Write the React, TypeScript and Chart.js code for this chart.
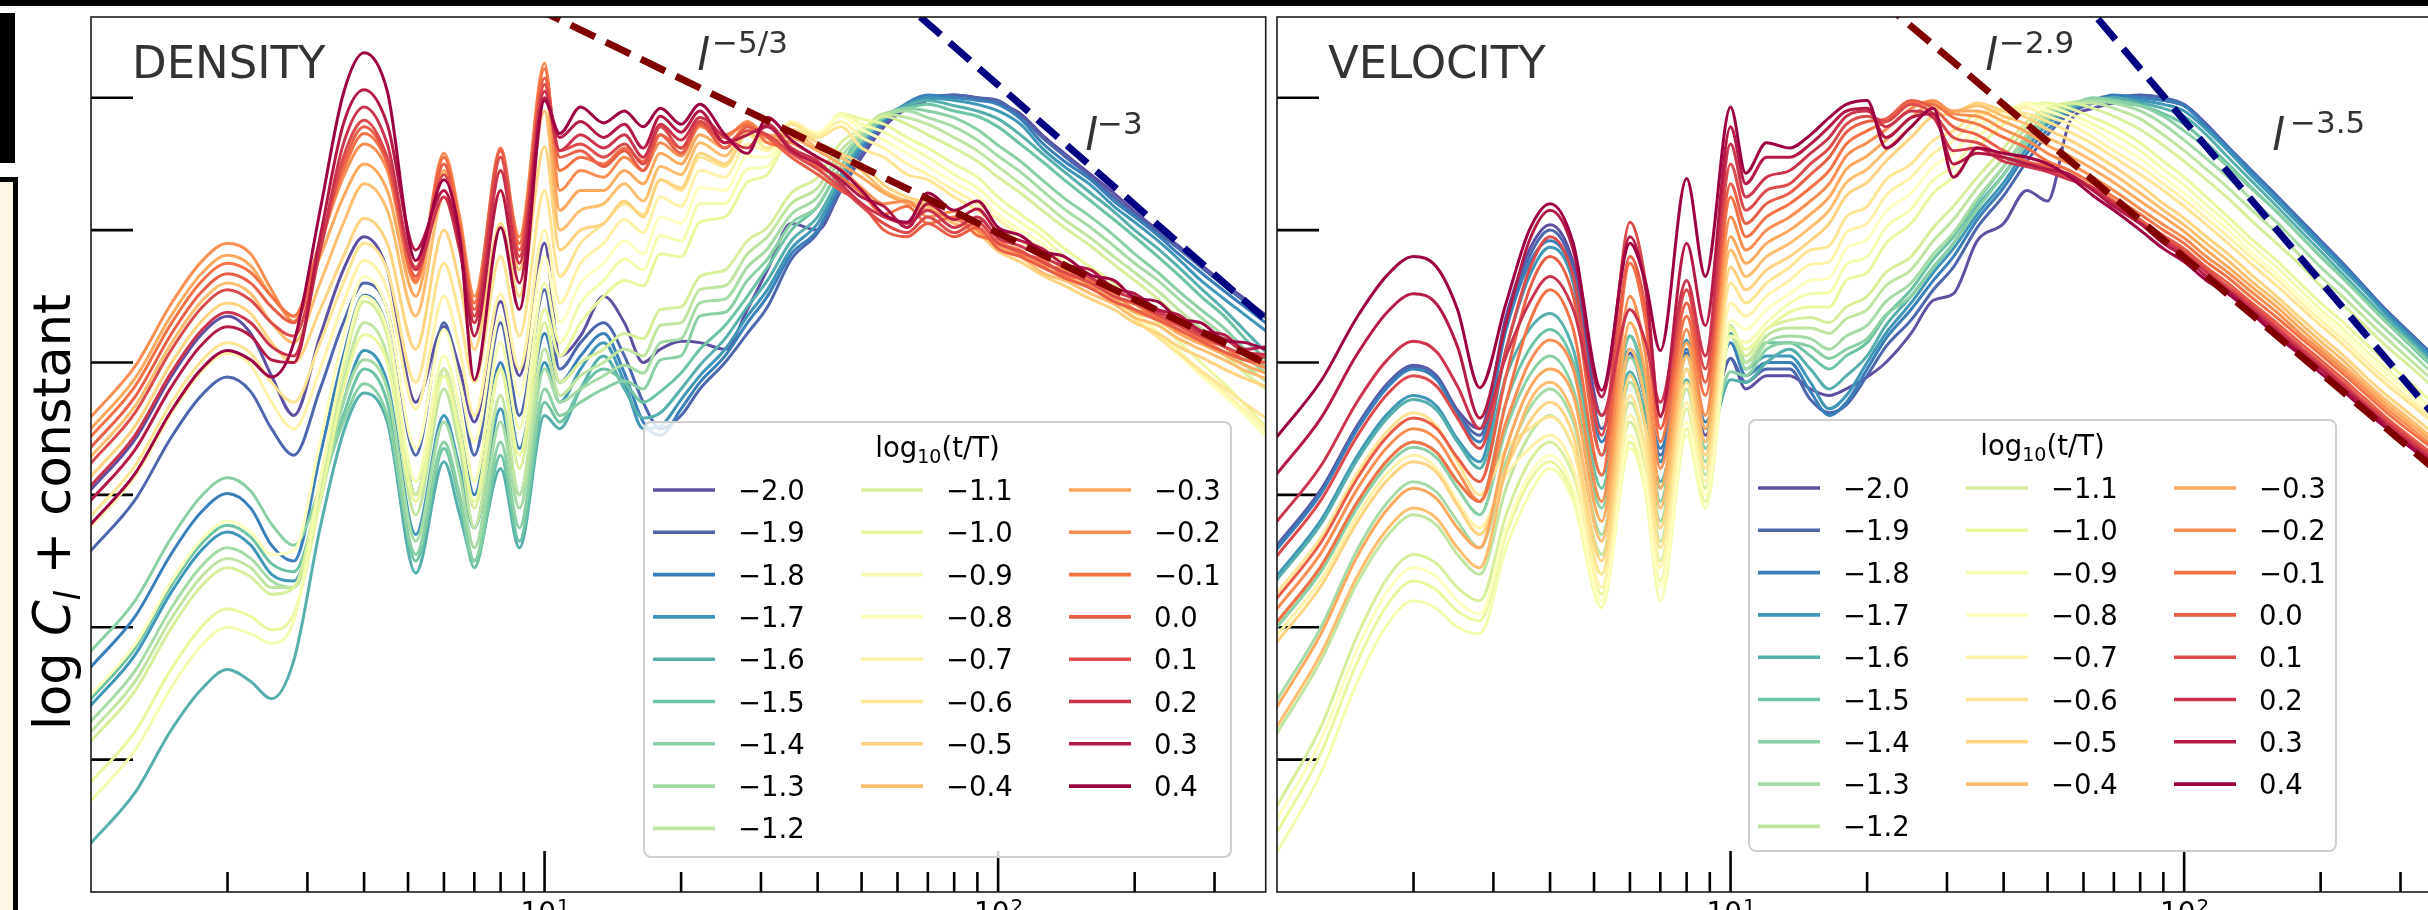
import React, { useEffect, useRef } from "react";
import { Chart, registerables } from "chart.js";

Chart.register(...registerables);

// ---------------- data ----------------
// multipole l sample positions (low-l oscillating part, high-l turbulent part)
const lowL = [1, 1.25, 1.5, 1.75, 2, 2.25, 2.5, 2.8, 3.2, 3.6, 4, 4.5, 5.2, 6, 6.5, 7, 8, 8.8, 10, 10.8, 12];
const highL = [13.5, 15, 16.5, 18, 20, 22, 25, 28, 31, 35, 40, 45, 50, 56, 63, 70, 80, 90, 100, 112, 125, 140, 160, 180, 200, 225, 250, 280, 315, 350, 389];

// legend entries: log10(t/T)
const timeLabels = ["−2.0", "−1.9", "−1.8", "−1.7", "−1.6", "−1.5", "−1.4", "−1.3", "−1.2", "−1.1", "−1.0", "−0.9", "−0.8", "−0.7", "−0.6", "−0.5", "−0.4", "−0.3", "−0.2", "−0.1", "0.0", "0.1", "0.2", "0.3", "0.4"];

const yTickValues = [0, 1, 2, 3, 4, 5];
const xMajorTicks = [10, 100];
const xMinorTicks = [2, 3, 4, 5, 6, 7, 8, 9, 20, 30, 40, 50, 60, 70, 80, 90, 200, 300];
const xTickExponents = ["1", "2"];
const lRange = [1, 389];
const yRange = [-1.0, 5.61];

const legendTitleBase = "log";
const legendTitleSub = "10";
const legendTitleRest = "(t/T)";
const yLabelParts = ["log ", "C", "l", " + constant"];

const densityTitle = "DENSITY";
const velocityTitle = "VELOCITY";
const densitySlopeTexts = ["−5/3", "−3"];
const velocitySlopeTexts = ["−2.9", "−3.5"];

// DENSITY: log C_l at lowL
const densityLow = [
  [2.04, 2.42, 2.89, 3.21, 3.35, 3.22, 2.90, 2.60, 3.20, 3.70, 3.95, 3.70, 2.70, 3.27, 2.95, 2.55, 3.46, 2.90, 3.90, 3.05, 3.20],
  [1.58, 1.96, 2.43, 2.75, 2.89, 2.78, 2.50, 2.30, 2.80, 3.30, 3.60, 3.40, 2.30, 3.30, 2.85, 2.30, 3.30, 2.60, 3.55, 2.95, 3.15],
  [0.70, 1.08, 1.55, 1.87, 2.01, 1.90, 1.62, 1.50, 2.30, 3.05, 3.51, 3.25, 2.00, 2.95, 2.50, 2.00, 3.00, 2.35, 3.22, 2.85, 3.05],
  [0.41, 0.79, 1.26, 1.58, 1.72, 1.62, 1.40, 1.35, 2.00, 2.70, 3.09, 2.85, 1.70, 2.60, 2.20, 1.75, 2.65, 2.00, 3.00, 2.70, 2.95],
  [-0.63, -0.25, 0.22, 0.53, 0.68, 0.59, 0.46, 0.75, 1.75, 2.47, 2.77, 2.55, 1.41, 2.25, 1.85, 1.50, 2.20, 1.60, 2.60, 2.50, 2.80],
  [0.46, 0.84, 1.31, 1.63, 1.77, 1.68, 1.48, 1.42, 2.00, 2.60, 2.95, 2.70, 1.50, 2.35, 1.95, 1.45, 2.30, 1.65, 2.70, 2.55, 2.80],
  [0.82, 1.20, 1.67, 1.99, 2.13, 2.03, 1.78, 1.62, 2.05, 2.55, 2.84, 2.60, 1.55, 2.40, 2.00, 1.50, 2.40, 1.75, 2.80, 2.60, 2.70],
  [0.29, 0.67, 1.14, 1.46, 1.60, 1.52, 1.35, 1.30, 1.95, 2.70, 3.02, 2.80, 1.65, 2.55, 2.15, 1.60, 2.55, 1.90, 2.95, 2.70, 2.80],
  [0.21, 0.59, 1.06, 1.38, 1.52, 1.45, 1.30, 1.30, 2.05, 2.85, 3.30, 3.05, 1.85, 2.80, 2.35, 1.75, 2.75, 2.00, 3.10, 2.75, 2.90],
  [0.14, 0.52, 0.99, 1.31, 1.45, 1.38, 1.25, 1.30, 2.10, 2.95, 3.46, 3.20, 2.00, 2.95, 2.50, 1.90, 2.95, 2.20, 3.30, 2.85, 3.00],
  [-0.17, 0.21, 0.68, 1.00, 1.14, 1.08, 0.98, 1.10, 1.95, 2.80, 3.21, 3.00, 1.95, 2.90, 2.45, 1.95, 2.95, 2.30, 3.40, 3.05, 3.30],
  [-0.31, 0.07, 0.54, 0.86, 1.00, 0.95, 0.88, 1.05, 2.10, 3.00, 3.50, 3.25, 2.10, 3.05, 2.65, 2.10, 3.15, 2.50, 3.60, 3.15, 3.45],
  [0.49, 0.87, 1.34, 1.66, 1.80, 1.72, 1.55, 1.58, 2.40, 3.20, 3.65, 3.40, 2.35, 3.25, 2.85, 2.40, 3.35, 2.75, 3.80, 3.30, 3.60],
  [1.76, 2.14, 2.61, 2.93, 3.07, 2.98, 2.70, 2.50, 2.95, 3.45, 3.77, 3.55, 2.65, 3.50, 3.10, 2.60, 3.52, 2.95, 4.00, 3.45, 3.75],
  [1.84, 2.22, 2.69, 3.01, 3.15, 3.07, 2.85, 2.70, 3.15, 3.60, 3.90, 3.70, 2.85, 3.75, 3.35, 2.85, 3.80, 3.20, 4.30, 3.65, 3.90],
  [2.14, 2.52, 2.99, 3.31, 3.45, 3.37, 3.15, 3.00, 3.40, 3.80, 4.09, 3.90, 3.10, 4.00, 3.60, 3.10, 4.05, 3.50, 4.63, 3.85, 4.00],
  [2.29, 2.67, 3.14, 3.46, 3.60, 3.52, 3.30, 3.15, 3.60, 4.05, 4.35, 4.15, 3.35, 4.25, 3.85, 3.30, 4.30, 3.70, 4.90, 4.00, 4.15],
  [2.50, 2.88, 3.35, 3.67, 3.81, 3.73, 3.50, 3.35, 3.80, 4.25, 4.50, 4.30, 3.50, 4.45, 4.00, 3.45, 4.45, 3.90, 5.10, 4.15, 4.30],
  [2.59, 2.97, 3.44, 3.76, 3.90, 3.82, 3.55, 3.31, 3.90, 4.40, 4.65, 4.45, 3.60, 4.58, 4.10, 3.50, 4.55, 3.95, 5.26, 4.30, 4.45],
  [2.44, 2.82, 3.29, 3.61, 3.75, 3.68, 3.50, 3.35, 3.92, 4.45, 4.73, 4.50, 3.62, 4.55, 4.05, 3.45, 4.62, 3.90, 5.22, 4.45, 4.55],
  [2.36, 2.74, 3.21, 3.53, 3.67, 3.60, 3.42, 3.30, 3.90, 4.50, 4.78, 4.52, 3.65, 4.50, 4.00, 3.40, 4.60, 3.85, 5.15, 4.55, 4.60],
  [2.24, 2.62, 3.09, 3.41, 3.55, 3.47, 3.30, 3.20, 3.85, 4.55, 4.83, 4.55, 3.72, 4.42, 3.95, 3.35, 4.55, 3.80, 5.10, 4.60, 4.65],
  [2.07, 2.45, 2.92, 3.24, 3.38, 3.30, 3.12, 3.05, 3.85, 4.65, 4.93, 4.65, 3.70, 4.25, 3.85, 3.30, 4.45, 3.75, 5.05, 4.60, 4.72],
  [1.96, 2.34, 2.81, 3.13, 3.27, 3.20, 3.02, 3.00, 3.95, 4.80, 5.06, 4.80, 3.85, 4.30, 3.90, 3.20, 4.30, 3.60, 5.00, 4.70, 4.82],
  [1.78, 2.16, 2.63, 2.95, 3.09, 3.02, 2.89, 3.15, 4.15, 5.03, 5.34, 5.05, 3.77, 4.38, 3.95, 2.87, 4.02, 3.40, 4.98, 4.73, 4.93],
];

// DENSITY: log C_l at highL
const densityHigh = [
  [3.50, 3.30, 3.00, 3.10, 3.16, 3.15, 3.10, 3.40, 3.70, 4.05, 4.00, 4.30, 4.55, 4.78, 4.92, 4.98, 5.02, 5.00, 4.96, 4.88, 4.72, 4.58, 4.42, 4.28, 4.14, 4.00, 3.88, 3.74, 3.60, 3.48, 3.36],
  [3.30, 3.05, 2.70, 2.50, 2.60, 2.80, 3.00, 3.22, 3.42, 3.78, 3.98, 4.30, 4.58, 4.80, 4.94, 5.00, 5.02, 5.00, 4.98, 4.86, 4.70, 4.56, 4.40, 4.25, 4.12, 3.98, 3.86, 3.72, 3.58, 3.46, 3.34],
  [3.22, 2.92, 2.55, 2.45, 2.65, 2.85, 3.05, 3.30, 3.50, 3.82, 4.00, 4.35, 4.62, 4.82, 4.96, 5.02, 5.00, 4.98, 4.95, 4.84, 4.66, 4.52, 4.38, 4.22, 4.10, 3.96, 3.82, 3.68, 3.54, 3.42, 3.30],
  [3.15, 2.85, 2.50, 2.52, 2.72, 2.90, 3.10, 3.35, 3.55, 3.86, 4.05, 4.38, 4.66, 4.85, 4.95, 5.00, 4.98, 4.95, 4.90, 4.80, 4.62, 4.48, 4.34, 4.18, 4.06, 3.92, 3.78, 3.62, 3.48, 3.36, 3.24],
  [3.05, 2.80, 2.58, 2.62, 2.80, 2.98, 3.18, 3.42, 3.62, 3.92, 4.10, 4.42, 4.68, 4.84, 4.94, 4.98, 4.94, 4.90, 4.84, 4.72, 4.58, 4.44, 4.28, 4.14, 4.00, 3.86, 3.72, 3.56, 3.40, 3.24, 3.08],
  [2.95, 2.85, 2.70, 2.78, 2.92, 3.10, 3.28, 3.50, 3.72, 4.00, 4.18, 4.48, 4.72, 4.85, 4.92, 4.95, 4.90, 4.86, 4.78, 4.65, 4.52, 4.38, 4.22, 4.08, 3.95, 3.80, 3.66, 3.50, 3.35, 3.18, 3.02],
  [2.80, 2.86, 2.80, 3.02, 3.05, 3.35, 3.38, 3.62, 3.78, 4.05, 4.18, 4.48, 4.68, 4.86, 4.92, 4.90, 4.85, 4.76, 4.64, 4.52, 4.38, 4.24, 4.10, 3.96, 3.82, 3.68, 3.54, 3.40, 3.26, 3.10, 2.96],
  [2.90, 2.98, 2.92, 3.15, 3.18, 3.45, 3.48, 3.72, 3.86, 4.12, 4.25, 4.55, 4.72, 4.88, 4.90, 4.85, 4.78, 4.68, 4.56, 4.44, 4.30, 4.16, 4.02, 3.88, 3.75, 3.62, 3.48, 3.34, 3.20, 3.05, 2.92],
  [3.00, 3.10, 3.05, 3.28, 3.30, 3.55, 3.58, 3.82, 3.95, 4.20, 4.32, 4.60, 4.74, 4.88, 4.85, 4.80, 4.70, 4.60, 4.48, 4.35, 4.22, 4.08, 3.94, 3.80, 3.68, 3.54, 3.40, 3.26, 3.12, 2.98, 2.86],
  [3.10, 3.22, 3.18, 3.40, 3.42, 3.65, 3.70, 3.92, 4.02, 4.28, 4.40, 4.66, 4.76, 4.86, 4.80, 4.72, 4.62, 4.52, 4.40, 4.28, 4.15, 4.02, 3.88, 3.74, 3.62, 3.48, 3.34, 3.20, 3.06, 2.92, 2.80],
  [3.50, 3.62, 3.58, 3.82, 3.80, 4.06, 4.10, 4.36, 4.42, 4.70, 4.70, 4.88, 4.84, 4.80, 4.70, 4.62, 4.50, 4.40, 4.25, 4.12, 4.00, 3.86, 3.72, 3.60, 3.45, 3.30, 3.16, 3.00, 2.84, 2.68, 2.52],
  [3.62, 3.78, 3.70, 3.96, 3.92, 4.20, 4.20, 4.46, 4.48, 4.76, 4.72, 4.88, 4.80, 4.74, 4.64, 4.55, 4.42, 4.32, 4.18, 4.06, 3.95, 3.80, 3.66, 3.54, 3.38, 3.23, 3.09, 2.93, 2.77, 2.61, 2.46],
  [3.75, 3.92, 3.82, 4.10, 4.05, 4.32, 4.30, 4.56, 4.55, 4.80, 4.74, 4.86, 4.76, 4.68, 4.58, 4.48, 4.36, 4.26, 4.12, 4.00, 3.90, 3.76, 3.62, 3.50, 3.34, 3.20, 3.06, 2.90, 2.75, 2.60, 2.44],
  [3.90, 4.08, 3.98, 4.25, 4.18, 4.45, 4.40, 4.65, 4.60, 4.82, 4.72, 4.82, 4.70, 4.62, 4.50, 4.42, 4.30, 4.20, 4.08, 3.96, 3.86, 3.74, 3.60, 3.48, 3.33, 3.20, 3.07, 2.92, 2.78, 2.64, 2.50],
  [4.05, 4.20, 4.12, 4.38, 4.30, 4.55, 4.48, 4.72, 4.62, 4.80, 4.70, 4.78, 4.62, 4.55, 4.42, 4.38, 4.25, 4.15, 4.02, 3.92, 3.82, 3.70, 3.58, 3.45, 3.33, 3.19, 3.07, 2.94, 2.81, 2.69, 2.58],
  [4.05, 4.22, 4.10, 4.38, 4.32, 4.58, 4.50, 4.74, 4.66, 4.76, 4.66, 4.58, 4.50, 4.34, 4.25, 4.20, 4.05, 3.98, 3.84, 3.76, 3.66, 3.58, 3.48, 3.40, 3.30, 3.22, 3.12, 3.04, 2.95, 2.88, 2.82],
  [4.20, 4.35, 4.22, 4.48, 4.42, 4.66, 4.56, 4.78, 4.70, 4.74, 4.62, 4.55, 4.45, 4.30, 4.22, 4.18, 4.05, 4.00, 3.85, 3.80, 3.68, 3.62, 3.52, 3.44, 3.34, 3.28, 3.18, 3.10, 3.02, 2.94, 2.88],
  [4.30, 4.45, 4.35, 4.58, 4.50, 4.72, 4.62, 4.80, 4.72, 4.70, 4.60, 4.50, 4.40, 4.28, 4.20, 4.15, 4.08, 4.02, 3.88, 3.82, 3.72, 3.66, 3.56, 3.48, 3.38, 3.32, 3.22, 3.14, 3.06, 2.98, 2.92],
  [4.40, 4.55, 4.45, 4.66, 4.56, 4.78, 4.70, 4.82, 4.70, 4.66, 4.55, 4.46, 4.32, 4.20, 4.22, 4.10, 4.14, 4.00, 3.90, 3.85, 3.74, 3.70, 3.58, 3.52, 3.40, 3.36, 3.24, 3.18, 3.08, 3.02, 2.96],
  [4.50, 4.62, 4.52, 4.72, 4.62, 4.82, 4.72, 4.80, 4.66, 4.62, 4.48, 4.40, 4.28, 4.12, 4.18, 4.05, 4.10, 3.96, 3.92, 3.82, 3.78, 3.66, 3.62, 3.50, 3.44, 3.34, 3.28, 3.18, 3.12, 3.02, 3.00],
  [4.48, 4.60, 4.45, 4.72, 4.58, 4.80, 4.62, 4.78, 4.70, 4.55, 4.42, 4.30, 4.20, 4.00, 3.95, 4.05, 3.95, 4.02, 3.86, 3.80, 3.72, 3.64, 3.56, 3.46, 3.40, 3.32, 3.25, 3.16, 3.08, 3.02, 3.00],
  [4.55, 4.65, 4.50, 4.78, 4.62, 4.82, 4.66, 4.75, 4.72, 4.58, 4.46, 4.32, 4.18, 4.05, 3.98, 4.10, 3.98, 4.06, 3.90, 3.84, 3.76, 3.68, 3.60, 3.50, 3.45, 3.36, 3.28, 3.20, 3.12, 3.06, 3.04],
  [4.62, 4.72, 4.55, 4.80, 4.68, 4.85, 4.70, 4.62, 4.80, 4.62, 4.52, 4.35, 4.20, 4.10, 4.05, 4.15, 4.02, 4.10, 3.94, 3.88, 3.80, 3.72, 3.64, 3.54, 3.48, 3.38, 3.32, 3.22, 3.18, 3.08, 3.06],
  [4.70, 4.80, 4.62, 4.86, 4.74, 4.90, 4.66, 4.72, 4.78, 4.60, 4.50, 4.38, 4.25, 4.18, 4.02, 4.20, 4.08, 4.16, 3.98, 3.92, 3.86, 3.74, 3.70, 3.56, 3.52, 3.40, 3.36, 3.24, 3.21, 3.10, 3.12],
  [4.81, 4.90, 4.78, 4.92, 4.80, 4.95, 4.72, 4.58, 4.85, 4.68, 4.55, 4.45, 4.30, 4.12, 4.06, 4.28, 4.15, 4.22, 4.02, 3.96, 3.84, 3.80, 3.66, 3.62, 3.49, 3.46, 3.33, 3.30, 3.17, 3.15, 3.10],
];

// VELOCITY: log C_l at lowL
const velocityLow = [
  [1.62, 2.04, 2.52, 2.84, 2.98, 2.90, 2.64, 2.50, 3.35, 3.85, 4.04, 3.75, 2.60, 3.07, 2.70, 2.25, 3.07, 2.45, 3.03, 2.80, 2.90],
  [1.61, 2.03, 2.51, 2.83, 2.97, 2.89, 2.62, 2.45, 3.30, 3.80, 4.00, 3.70, 2.50, 3.07, 2.75, 2.30, 3.07, 2.50, 3.03, 2.85, 2.95],
  [1.59, 2.01, 2.49, 2.81, 2.95, 2.87, 2.60, 2.40, 3.25, 3.75, 3.92, 3.65, 2.40, 3.10, 2.80, 2.35, 3.10, 2.55, 3.15, 2.90, 3.00],
  [1.39, 1.81, 2.29, 2.61, 2.75, 2.67, 2.42, 2.25, 3.10, 3.65, 3.87, 3.60, 2.30, 3.20, 2.85, 2.25, 3.17, 2.50, 3.22, 2.95, 3.05],
  [1.36, 1.78, 2.26, 2.58, 2.72, 2.64, 2.40, 2.20, 2.90, 3.25, 3.37, 3.10, 2.15, 2.93, 2.60, 2.10, 2.87, 2.35, 2.87, 2.85, 3.00],
  [1.04, 1.46, 1.94, 2.26, 2.40, 2.32, 2.10, 1.95, 2.70, 3.10, 3.25, 3.00, 2.05, 3.20, 2.80, 2.05, 3.05, 2.40, 3.28, 3.00, 3.15],
  [1.00, 1.42, 1.90, 2.22, 2.36, 2.28, 2.05, 1.85, 2.50, 2.90, 3.05, 2.80, 1.90, 3.04, 2.70, 1.95, 3.05, 2.35, 2.93, 2.90, 3.10],
  [0.45, 1.00, 1.58, 1.94, 2.10, 2.02, 1.80, 1.60, 2.25, 2.65, 2.80, 2.55, 1.70, 2.85, 2.50, 1.80, 2.95, 2.25, 3.28, 2.95, 3.15],
  [0.20, 0.75, 1.33, 1.69, 1.85, 1.77, 1.55, 1.40, 2.05, 2.45, 2.60, 2.35, 1.55, 2.70, 2.35, 1.65, 2.80, 2.15, 3.20, 3.00, 3.20],
  [-0.35, 0.25, 0.93, 1.37, 1.55, 1.48, 1.30, 1.20, 1.85, 2.25, 2.40, 2.15, 1.40, 2.55, 2.20, 1.50, 2.65, 2.05, 3.28, 3.05, 3.25],
  [-0.55, 0.05, 0.73, 1.17, 1.35, 1.28, 1.12, 1.05, 1.70, 2.10, 2.25, 2.00, 1.25, 2.40, 2.05, 1.35, 2.50, 1.95, 3.25, 3.10, 3.25],
  [-0.70, -0.10, 0.58, 1.02, 1.20, 1.14, 1.00, 0.95, 1.60, 2.00, 2.20, 1.95, 1.15, 2.35, 2.00, 1.20, 2.45, 1.90, 3.20, 3.15, 3.30],
  [-0.45, 0.15, 0.83, 1.27, 1.45, 1.38, 1.20, 1.10, 1.75, 2.15, 2.30, 2.05, 1.20, 2.45, 2.10, 1.30, 2.55, 2.00, 3.32, 3.25, 3.40],
  [0.94, 1.36, 1.84, 2.16, 2.30, 2.20, 1.95, 1.75, 2.15, 2.35, 2.45, 2.20, 1.30, 2.60, 2.25, 1.45, 2.70, 2.10, 3.45, 3.35, 3.50],
  [1.26, 1.68, 2.16, 2.48, 2.62, 2.52, 2.25, 2.00, 2.35, 2.50, 2.59, 2.35, 1.40, 2.75, 2.35, 1.60, 2.85, 2.20, 3.60, 3.45, 3.60],
  [0.89, 1.31, 1.79, 2.11, 2.25, 2.17, 1.92, 1.70, 2.20, 2.55, 2.70, 2.45, 1.50, 2.90, 2.50, 1.75, 2.95, 2.30, 3.72, 3.55, 3.70],
  [0.25, 0.80, 1.38, 1.74, 1.90, 1.82, 1.60, 1.45, 2.20, 2.70, 2.85, 2.60, 1.65, 3.10, 2.70, 1.90, 3.05, 2.40, 3.85, 3.65, 3.80],
  [0.40, 0.95, 1.53, 1.89, 2.05, 1.97, 1.75, 1.60, 2.35, 2.80, 2.95, 2.75, 1.80, 3.30, 2.90, 2.05, 3.15, 2.50, 3.95, 3.75, 3.90],
  [1.14, 1.56, 2.04, 2.36, 2.50, 2.42, 2.18, 1.95, 2.55, 3.00, 3.17, 2.95, 1.95, 3.50, 3.05, 2.20, 3.25, 2.60, 4.10, 3.85, 4.00],
  [1.04, 1.46, 1.94, 2.26, 2.40, 2.32, 2.10, 1.95, 2.70, 3.30, 3.55, 3.25, 2.15, 3.75, 3.30, 2.40, 3.35, 2.75, 4.25, 3.95, 4.10],
  [1.22, 1.64, 2.12, 2.44, 2.58, 2.50, 2.28, 2.10, 2.90, 3.55, 3.80, 3.50, 2.30, 3.80, 3.40, 2.50, 3.45, 2.85, 4.35, 4.05, 4.20],
  [1.54, 1.96, 2.44, 2.76, 2.90, 2.82, 2.58, 2.35, 3.10, 3.70, 3.95, 3.65, 2.45, 4.06, 3.60, 2.60, 3.55, 2.95, 4.50, 4.15, 4.30],
  [1.80, 2.22, 2.70, 3.02, 3.16, 3.08, 2.82, 2.50, 3.05, 3.45, 3.65, 3.40, 2.60, 3.40, 3.15, 2.70, 3.62, 3.05, 4.65, 4.25, 4.40],
  [2.16, 2.58, 3.06, 3.38, 3.52, 3.44, 3.12, 2.58, 3.30, 3.92, 4.15, 3.85, 2.74, 3.95, 3.55, 2.59, 3.90, 3.28, 4.78, 4.35, 4.55],
  [2.44, 2.86, 3.34, 3.66, 3.80, 3.72, 3.40, 2.81, 3.45, 4.00, 4.20, 3.90, 2.79, 3.90, 3.60, 3.09, 4.39, 3.65, 4.93, 4.43, 4.66],
];

// VELOCITY: log C_l at highL
const velocityHigh = [
  [2.90, 2.80, 2.75, 2.80, 2.89, 3.00, 3.22, 3.47, 3.52, 3.92, 4.05, 4.30, 4.22, 4.82, 4.92, 4.96, 5.00, 4.98, 4.94, 4.80, 4.62, 4.45, 4.26, 4.08, 3.92, 3.74, 3.57, 3.39, 3.22, 3.07, 2.93],
  [2.95, 2.72, 2.62, 2.68, 2.90, 3.12, 3.32, 3.55, 3.72, 4.02, 4.26, 4.52, 4.72, 4.88, 4.96, 5.00, 5.02, 5.00, 4.95, 4.80, 4.63, 4.46, 4.26, 4.08, 3.92, 3.74, 3.57, 3.39, 3.22, 3.07, 2.93],
  [3.00, 2.78, 2.60, 2.70, 2.95, 3.18, 3.40, 3.62, 3.80, 4.08, 4.32, 4.58, 4.76, 4.90, 4.98, 5.02, 5.00, 4.98, 4.94, 4.78, 4.62, 4.45, 4.25, 4.07, 3.91, 3.73, 3.56, 3.38, 3.21, 3.06, 2.92],
  [3.05, 2.85, 2.65, 2.75, 3.00, 3.22, 3.45, 3.68, 3.86, 4.12, 4.36, 4.62, 4.80, 4.92, 4.98, 5.00, 4.98, 4.95, 4.90, 4.76, 4.60, 4.42, 4.22, 4.04, 3.88, 3.70, 3.54, 3.36, 3.19, 3.04, 2.90],
  [3.10, 2.95, 2.80, 2.90, 3.05, 3.28, 3.50, 3.72, 3.90, 4.18, 4.42, 4.66, 4.82, 4.92, 4.98, 5.00, 4.96, 4.92, 4.86, 4.72, 4.55, 4.38, 4.18, 4.00, 3.84, 3.66, 3.50, 3.33, 3.16, 3.01, 2.87],
  [3.15, 3.05, 2.95, 3.05, 3.15, 3.35, 3.55, 3.78, 3.95, 4.22, 4.48, 4.70, 4.85, 4.94, 4.98, 4.96, 4.94, 4.88, 4.80, 4.66, 4.50, 4.33, 4.14, 3.96, 3.80, 3.63, 3.47, 3.30, 3.13, 2.98, 2.84],
  [3.15, 3.12, 3.03, 3.10, 3.18, 3.36, 3.50, 3.72, 3.90, 4.16, 4.42, 4.66, 4.84, 4.94, 5.00, 4.98, 4.94, 4.86, 4.75, 4.62, 4.48, 4.32, 4.14, 3.96, 3.80, 3.63, 3.47, 3.30, 3.14, 2.99, 2.85],
  [3.20, 3.18, 3.10, 3.20, 3.28, 3.46, 3.60, 3.82, 3.98, 4.24, 4.48, 4.72, 4.88, 4.96, 4.98, 4.96, 4.90, 4.80, 4.68, 4.54, 4.40, 4.24, 4.06, 3.88, 3.72, 3.56, 3.40, 3.24, 3.08, 2.93, 2.80],
  [3.26, 3.26, 3.22, 3.33, 3.40, 3.58, 3.70, 3.92, 4.08, 4.32, 4.55, 4.78, 4.90, 4.96, 4.96, 4.92, 4.84, 4.72, 4.60, 4.46, 4.32, 4.16, 3.98, 3.81, 3.65, 3.49, 3.34, 3.18, 3.02, 2.88, 2.75],
  [3.32, 3.34, 3.30, 3.42, 3.50, 3.68, 3.80, 4.02, 4.18, 4.40, 4.62, 4.82, 4.92, 4.96, 4.92, 4.86, 4.76, 4.64, 4.52, 4.38, 4.24, 4.08, 3.90, 3.74, 3.58, 3.43, 3.28, 3.12, 2.97, 2.83, 2.70],
  [3.38, 3.42, 3.42, 3.62, 3.68, 3.90, 4.05, 4.28, 4.40, 4.62, 4.80, 4.94, 4.96, 4.92, 4.85, 4.78, 4.66, 4.52, 4.40, 4.25, 4.10, 3.94, 3.77, 3.60, 3.45, 3.30, 3.15, 3.00, 2.85, 2.71, 2.58],
  [3.45, 3.52, 3.53, 3.74, 3.80, 4.02, 4.16, 4.38, 4.48, 4.70, 4.85, 4.96, 4.94, 4.88, 4.80, 4.72, 4.60, 4.46, 4.34, 4.19, 4.05, 3.89, 3.72, 3.55, 3.40, 3.25, 3.10, 2.95, 2.80, 2.66, 2.54],
  [3.52, 3.62, 3.64, 3.86, 3.93, 4.14, 4.28, 4.48, 4.58, 4.78, 4.90, 4.95, 4.90, 4.84, 4.76, 4.66, 4.54, 4.40, 4.28, 4.14, 4.00, 3.84, 3.67, 3.50, 3.36, 3.21, 3.06, 2.91, 2.76, 2.62, 2.50],
  [3.62, 3.74, 3.76, 3.98, 4.05, 4.26, 4.40, 4.58, 4.68, 4.84, 4.92, 4.92, 4.86, 4.80, 4.70, 4.60, 4.48, 4.35, 4.23, 4.09, 3.95, 3.80, 3.63, 3.46, 3.32, 3.17, 3.02, 2.87, 2.72, 2.59, 2.47],
  [3.72, 3.85, 3.88, 4.10, 4.18, 4.38, 4.50, 4.68, 4.75, 4.88, 4.90, 4.88, 4.82, 4.74, 4.65, 4.55, 4.42, 4.30, 4.18, 4.04, 3.90, 3.75, 3.58, 3.42, 3.28, 3.13, 2.98, 2.83, 2.69, 2.56, 2.44],
  [3.80, 3.92, 4.05, 4.26, 4.36, 4.52, 4.70, 4.86, 4.88, 4.96, 4.90, 4.85, 4.76, 4.68, 4.58, 4.48, 4.34, 4.20, 4.09, 3.95, 3.82, 3.67, 3.50, 3.34, 3.20, 3.05, 2.90, 2.75, 2.61, 2.48, 2.36],
  [3.90, 4.02, 4.15, 4.36, 4.46, 4.60, 4.78, 4.92, 4.90, 4.94, 4.86, 4.80, 4.70, 4.62, 4.52, 4.42, 4.28, 4.15, 4.04, 3.90, 3.77, 3.62, 3.46, 3.30, 3.16, 3.01, 2.86, 2.71, 2.57, 2.44, 2.32],
  [4.00, 4.12, 4.25, 4.46, 4.56, 4.68, 4.85, 4.96, 4.90, 4.90, 4.82, 4.74, 4.64, 4.56, 4.46, 4.36, 4.22, 4.10, 3.99, 3.85, 3.72, 3.58, 3.42, 3.26, 3.12, 2.97, 2.83, 2.68, 2.54, 2.41, 2.29],
  [4.10, 4.22, 4.35, 4.56, 4.66, 4.76, 4.92, 4.98, 4.88, 4.86, 4.76, 4.68, 4.58, 4.50, 4.40, 4.30, 4.16, 4.04, 3.94, 3.80, 3.68, 3.54, 3.38, 3.22, 3.09, 2.94, 2.80, 2.65, 2.51, 2.38, 2.26],
  [4.20, 4.32, 4.45, 4.65, 4.75, 4.82, 4.96, 4.95, 4.85, 4.80, 4.70, 4.62, 4.52, 4.45, 4.35, 4.25, 4.12, 4.00, 3.90, 3.76, 3.64, 3.50, 3.34, 3.19, 3.06, 2.91, 2.77, 2.62, 2.48, 2.36, 2.24],
  [4.28, 4.42, 4.55, 4.74, 4.82, 4.84, 4.98, 4.92, 4.78, 4.72, 4.60, 4.52, 4.48, 4.42, 4.32, 4.22, 4.08, 3.96, 3.86, 3.72, 3.60, 3.46, 3.30, 3.15, 3.02, 2.87, 2.73, 2.58, 2.44, 2.32, 2.20],
  [4.35, 4.50, 4.62, 4.80, 4.86, 4.82, 4.95, 4.88, 4.70, 4.66, 4.55, 4.50, 4.45, 4.40, 4.30, 4.18, 4.05, 3.94, 3.84, 3.70, 3.57, 3.44, 3.27, 3.12, 2.99, 2.84, 2.70, 2.56, 2.42, 2.30, 2.18],
  [4.45, 4.58, 4.70, 4.86, 4.90, 4.78, 4.90, 4.85, 4.60, 4.62, 4.52, 4.48, 4.44, 4.38, 4.32, 4.20, 4.06, 3.92, 3.82, 3.68, 3.55, 3.42, 3.25, 3.10, 2.97, 2.82, 2.68, 2.54, 2.40, 2.28, 2.16],
  [4.55, 4.65, 4.78, 4.90, 4.92, 4.70, 4.85, 4.88, 4.50, 4.58, 4.55, 4.50, 4.46, 4.42, 4.30, 4.18, 4.05, 3.90, 3.80, 3.65, 3.54, 3.40, 3.23, 3.08, 2.95, 2.80, 2.67, 2.52, 2.38, 2.26, 2.14],
  [4.62, 4.72, 4.85, 4.95, 4.98, 4.62, 4.78, 4.92, 4.40, 4.62, 4.58, 4.55, 4.50, 4.40, 4.26, 4.15, 4.00, 3.86, 3.76, 3.62, 3.52, 3.38, 3.20, 3.06, 2.92, 2.78, 2.64, 2.50, 2.36, 2.24, 2.12],
];

// reference power laws (end points)
const densityFit53L = [8, 389];
const densityFit53Y = [5.807, 2.995];
const densityFit3L = [50, 389];
const densityFit3Y = [5.999, 3.326];
const velocityFit29L = [10, 389];
const velocityFit29Y = [6.695, 2.084];
const velocityFit35L = [50, 389];
const velocityFit35Y = [6.044, 2.445];

// ---------------- styling helpers ----------------
const FONT = "'DejaVu Sans', 'Liberation Sans', sans-serif";
const SPECTRAL = ["#9e0142", "#d53e4f", "#f46d43", "#fdae61", "#fee08b", "#ffffbf", "#e6f598", "#abdda4", "#66c2a5", "#3288bd", "#5e4fa2"];

function hexRgb(h: string) {
  return [parseInt(h.slice(1, 3), 16), parseInt(h.slice(3, 5), 16), parseInt(h.slice(5, 7), 16)];
}
function seriesColor(i: number, n: number) {
  const f = 1 - i / (n - 1);
  const pos = f * 10;
  const k = Math.min(9, Math.floor(pos));
  const t = pos - k;
  const a = hexRgb(SPECTRAL[k]);
  const b = hexRgb(SPECTRAL[k + 1]);
  const c = a.map((v, j) => Math.round(v + (b[j] - v) * t));
  return `rgb(${c[0]},${c[1]},${c[2]})`;
}

type Decor = {
  title: string;
  titleX: number;
  titleY: number;
  slopes: { x: number; y: number; supX: number; supY: number; sup: string }[];
  legend: { x: number; y: number; w: number; h: number };
  yLabel: { x: number; y: number } | null;
};

function drawSegments(ctx: any, parts: { t: string; font: string; dy: number }[], x0: number, y0: number) {
  let x = x0;
  for (const p of parts) {
    ctx.font = p.font;
    ctx.fillText(p.t, x, y0 + p.dy);
    x += ctx.measureText(p.t).width;
  }
}
function segWidth(ctx: any, parts: { t: string; font: string; dy: number }[]) {
  let w = 0;
  for (const p of parts) {
    ctx.font = p.font;
    w += ctx.measureText(p.t).width;
  }
  return w;
}

function makeDecorPlugin(d: Decor) {
  return {
    id: "decor",
    beforeDatasetsDraw(chart: any) {
      const ctx = chart.ctx;
      const a = chart.chartArea;
      const xs = chart.scales.x;
      const ys = chart.scales.y;
      ctx.save();
      ctx.strokeStyle = "#000";
      ctx.lineWidth = 2.6;
      for (const v of yTickValues) {
        const p = ys.getPixelForValue(v);
        ctx.beginPath();
        ctx.moveTo(a.left, p);
        ctx.lineTo(a.left + 42, p);
        ctx.stroke();
      }
      for (const v of xMajorTicks) {
        const p = xs.getPixelForValue(v);
        ctx.beginPath();
        ctx.moveTo(p, a.bottom);
        ctx.lineTo(p, a.bottom - 41);
        ctx.stroke();
      }
      for (const v of xMinorTicks) {
        const p = xs.getPixelForValue(v);
        ctx.beginPath();
        ctx.moveTo(p, a.bottom);
        ctx.lineTo(p, a.bottom - 20);
        ctx.stroke();
      }
      ctx.restore();
    },
    afterDatasetsDraw(chart: any) {
      const ctx = chart.ctx;
      const a = chart.chartArea;
      const xs = chart.scales.x;
      ctx.save();
      // frame
      ctx.strokeStyle = "#1a1a1a";
      ctx.lineWidth = 1.6;
      ctx.strokeRect(a.left, a.top, a.right - a.left, a.bottom - a.top);

      // x tick labels (10^1, 10^2), partly cut by the picture edge
      ctx.fillStyle = "#000";
      ctx.textBaseline = "alphabetic";
      xMajorTicks.forEach((v, k) => {
        const p = xs.getPixelForValue(v);
        ctx.font = `28px ${FONT}`;
        const w1 = ctx.measureText("10").width;
        ctx.font = `20px ${FONT}`;
        const w2 = ctx.measureText(xTickExponents[k]).width;
        const x0 = p - (w1 + w2) / 2;
        ctx.font = `28px ${FONT}`;
        ctx.fillText("10", x0, 922);
        ctx.font = `20px ${FONT}`;
        ctx.fillText(xTickExponents[k], x0 + w1 + 1, 913);
      });

      // panel title
      ctx.fillStyle = "#333";
      ctx.font = `45px ${FONT}`;
      ctx.fillText(d.title, d.titleX, d.titleY);

      // power-law labels
      for (const s of d.slopes) {
        ctx.font = `italic 44px ${FONT}`;
        ctx.fillText("l", s.x, s.y);
        ctx.font = `31px ${FONT}`;
        ctx.fillText(s.sup, s.supX, s.supY);
      }

      // y label
      if (d.yLabel) {
        ctx.save();
        ctx.fillStyle = "#000";
        ctx.translate(d.yLabel.x, d.yLabel.y);
        ctx.rotate(-Math.PI / 2);
        const parts = [
          { t: yLabelParts[0], font: `51px ${FONT}`, dy: 0 },
          { t: yLabelParts[1], font: `italic 51px ${FONT}`, dy: 0 },
          { t: yLabelParts[2], font: `italic 35px ${FONT}`, dy: 10 },
          { t: yLabelParts[3], font: `51px ${FONT}`, dy: 0 },
        ];
        const w = segWidth(ctx, parts);
        drawSegments(ctx, parts, -w / 2, 0);
        ctx.restore();
      }

      // legend
      const L = d.legend;
      ctx.save();
      ctx.fillStyle = "rgba(255,255,255,0.82)";
      ctx.strokeStyle = "#cfcfcf";
      ctx.lineWidth = 2;
      ctx.beginPath();
      if (ctx.roundRect) ctx.roundRect(L.x, L.y, L.w, L.h, 7);
      else ctx.rect(L.x, L.y, L.w, L.h);
      ctx.fill();
      ctx.stroke();

      ctx.fillStyle = "#000";
      const tparts = [
        { t: legendTitleBase, font: `27.5px ${FONT}`, dy: 0 },
        { t: legendTitleSub, font: `19px ${FONT}`, dy: 6 },
        { t: legendTitleRest, font: `27.5px ${FONT}`, dy: 0 },
      ];
      const tw = segWidth(ctx, tparts);
      drawSegments(ctx, tparts, L.x + L.w / 2 - tw / 2, L.y + 35);

      const ds = chart.data.datasets.filter((s: any) => s.inLegend);
      const n = ds.length;
      const ncol = 3;
      const base = Math.floor(n / ncol);
      const extra = n % ncol;
      const counts = [0, 1, 2].map((c) => base + (c < extra ? 1 : 0));
      let idx = 0;
      ctx.font = `27.5px ${FONT}`;
      for (let c = 0; c < ncol; c++) {
        for (let r = 0; r < counts[c]; r++) {
          const s = ds[idx++];
          const cy = L.y + 68 + r * 42.3;
          const lx = L.x + 9 + c * 208;
          ctx.strokeStyle = s.borderColor;
          ctx.lineWidth = 3.6;
          ctx.beginPath();
          ctx.moveTo(lx, cy);
          ctx.lineTo(lx + 62, cy);
          ctx.stroke();
          ctx.fillStyle = "#000";
          ctx.fillText(s.label, L.x + 94 + c * 208, cy + 10);
        }
      }
      ctx.restore();
      ctx.restore();
    },
  };
}

function makePanel(
  canvas: HTMLCanvasElement,
  low: number[][],
  high: number[][],
  fits: { l: number[]; y: number[]; color: string }[],
  decor: Decor,
  padding: { left: number; right: number; top: number; bottom: number }
) {
  const n = low.length;
  const datasets: any[] = low.map((lv, i) => ({
    label: timeLabels[i],
    inLegend: true,
    data: [
      ...lowL.map((x, j) => ({ x, y: lv[j] })),
      ...highL.map((x, j) => ({ x, y: high[i][j] })),
    ],
    borderColor: seriesColor(i, n),
    borderWidth: 3,
    pointRadius: 0,
    cubicInterpolationMode: "monotone",
    fill: false,
    order: n - 1 - i,
    clip: 0,
    borderJoinStyle: "round",
    borderCapStyle: "round",
  }));
  fits.forEach((f) => {
    datasets.push({
      label: "",
      inLegend: false,
      data: f.l.map((x, j) => ({ x, y: f.y[j] })),
      borderColor: f.color,
      borderWidth: 7,
      borderDash: [27, 12],
      borderCapStyle: "butt",
      pointRadius: 0,
      tension: 0,
      fill: false,
      order: -1,
      clip: 0,
    });
  });
  return new Chart(canvas, {
    type: "line",
    data: { datasets },
    options: {
      responsive: false,
      maintainAspectRatio: false,
      animation: false,
      events: [],
      layout: { padding },
      scales: {
        x: { type: "logarithmic", min: lRange[0], max: lRange[1], display: false },
        y: { type: "linear", min: yRange[0], max: yRange[1], display: false },
      },
      plugins: { legend: { display: false }, tooltip: { enabled: false } },
    },
    plugins: [makeDecorPlugin(decor)],
  } as any);
}

const leftDecor: Decor = {
  title: densityTitle,
  titleX: 132,
  titleY: 78,
  slopes: [
    { x: 697, y: 70, supX: 712, supY: 53, sup: densitySlopeTexts[0] },
    { x: 1085, y: 150, supX: 1097, supY: 134, sup: densitySlopeTexts[1] },
  ],
  legend: { x: 644, y: 422, w: 587, h: 435 },
  yLabel: { x: 70, y: 512 },
};

const rightDecor: Decor = {
  title: velocityTitle,
  titleX: 58,
  titleY: 78,
  slopes: [
    { x: 715, y: 70, supX: 729, supY: 53, sup: velocitySlopeTexts[0] },
    { x: 1002, y: 150, supX: 1020, supY: 133, sup: velocitySlopeTexts[1] },
  ],
  legend: { x: 479, y: 420, w: 587, h: 431 },
  yLabel: null,
};

export default function App() {
  const leftRef = useRef<HTMLCanvasElement>(null);
  const rightRef = useRef<HTMLCanvasElement>(null);

  useEffect(() => {
    const charts: Chart[] = [];
    if (leftRef.current) {
      charts.push(
        makePanel(
          leftRef.current,
          densityLow,
          densityHigh,
          [
            { l: densityFit53L, y: densityFit53Y, color: "#800000" },
            { l: densityFit3L, y: densityFit3Y, color: "#000080" },
          ],
          leftDecor,
          { left: 91, right: 4.3, top: 17, bottom: 18 }
        )
      );
    }
    if (rightRef.current) {
      charts.push(
        makePanel(
          rightRef.current,
          velocityLow,
          velocityHigh,
          [
            { l: velocityFit29L, y: velocityFit29Y, color: "#800000" },
            { l: velocityFit35L, y: velocityFit35Y, color: "#000080" },
          ],
          rightDecor,
          { left: 7, right: 18.3, top: 17, bottom: 18 }
        )
      );
    }
    return () => charts.forEach((c) => c.destroy());
  }, []);

  return (
    <div style={{ position: "fixed", left: 0, top: 0, width: 2428, height: 910, overflow: "hidden", background: "#fff" }}>
      <canvas ref={leftRef} width={1270} height={910} style={{ position: "absolute", left: 0, top: 0 }} />
      <canvas ref={rightRef} width={1200} height={910} style={{ position: "absolute", left: 1270, top: 0 }} />
      <div style={{ position: "absolute", left: 0, top: 0, width: 2428, height: 6, background: "#000" }} />
      <div style={{ position: "absolute", left: 0, top: 13, width: 15, height: 150, background: "#000" }} />
      <div
        style={{
          position: "absolute",
          left: 0,
          top: 177,
          width: 13,
          height: 740,
          background: "#fdf8e6",
          borderRight: "5px solid #000",
          borderTop: "5px solid #000",
        }}
      />
    </div>
  );
}
